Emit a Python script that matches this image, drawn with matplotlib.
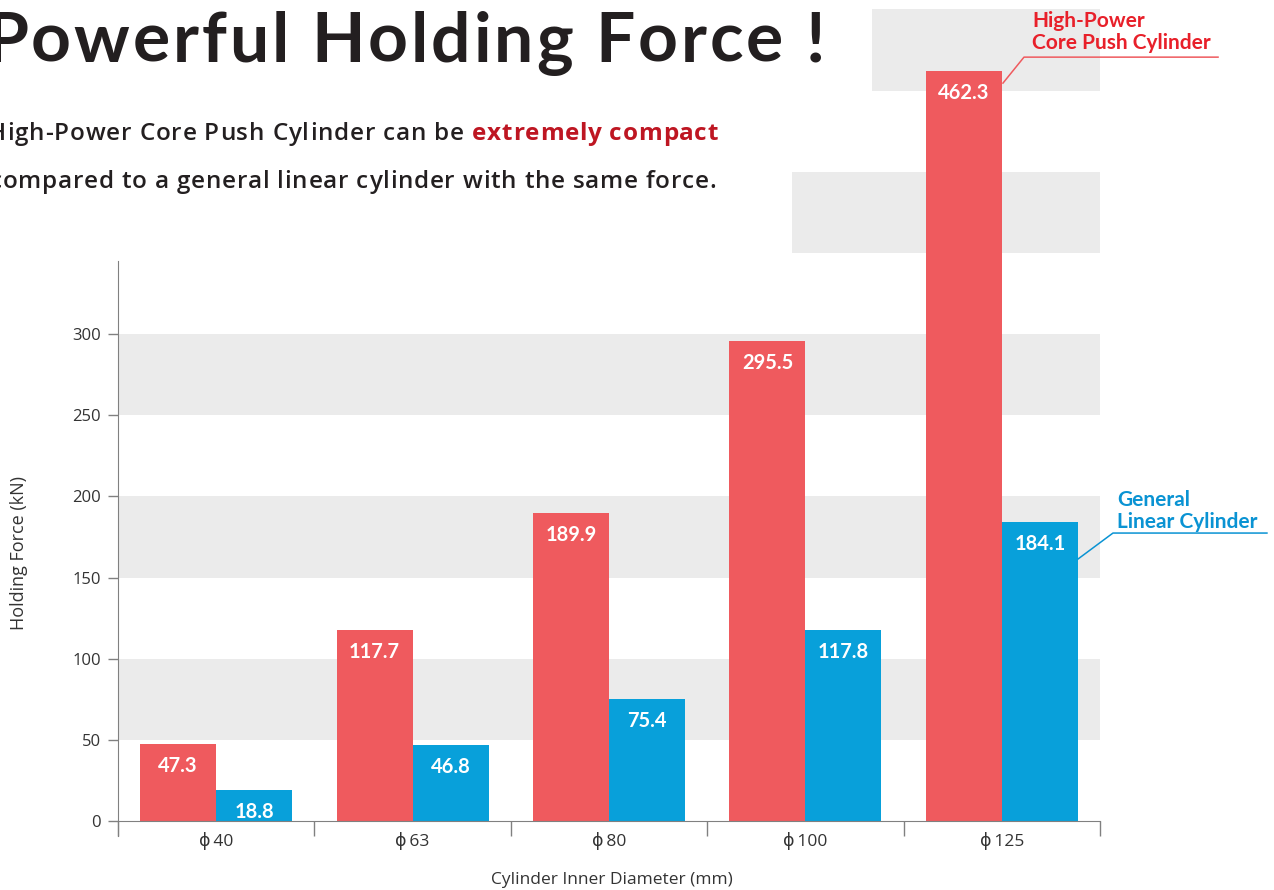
import matplotlib
matplotlib.use('Agg')
import matplotlib.pyplot as plt
from matplotlib.font_manager import FontProperties
import numpy as np

# data
categories = ['ϕ40', 'ϕ63', 'ϕ80', 'ϕ100', 'ϕ125']
core_push = [47.3, 117.7, 189.9, 295.5, 462.3]
linear = [18.8, 46.8, 75.4, 117.8, 184.1]
y_ticks = [0, 50, 100, 150, 200, 250, 300]

# shaded bands: (low, high, start as axes fraction)
bands = [(50, 100, 0.0), (150, 200, 0.0), (250, 300, 0.0),
         (350, 400, 0.686), (450, 500, 0.768)]

RED = '#EF5A5E'
BLUE = '#08A0DA'
RED_TXT = '#E8202A'
BLUE_TXT = '#0A93D3'
SUB_RED = '#BE1622'
DARK = '#231F20'
BAND = '#EBEBEB'
AXIS = '#808080'
TICK_TXT = '#333333'

plt.rcParams['font.family'] = ['Open Sans', 'DejaVu Sans']

W, H = 1274, 890
fig = plt.figure(figsize=(W / 100, H / 100), dpi=100)
renderer = fig.canvas.get_renderer()


def advances(s, fp):
    base = renderer.get_text_width_height_descent('ll', fp, ismath=False)[0]
    return [renderer.get_text_width_height_descent('l' + c + 'l', fp, ismath=False)[0] - base
            for c in s]


def tracked_text(s, right, baseline, width, fp, color):
    """Draw s letter by letter so that it spans `width` pixels ending at `right`."""
    adv = advances(s, fp)
    track = (width - sum(adv)) / (len(s) - 1)
    x = right - width
    for c, a in zip(s, adv):
        fig.text(x / W, 1 - baseline / H, c, ha='left', va='baseline',
                 fontproperties=fp, color=color)
        x += a + track


ax = fig.add_axes([118 / W, 54 / H, 982 / W, 836 / H])
ax.set_xlim(-0.5, 4.5)
ax.set_ylim(-9.24, 505.8)

for lo, hi, start in bands:
    ax.axhspan(lo, hi, xmin=start, xmax=1, color=BAND, lw=0, zorder=0)

x = np.arange(len(categories))
w = 0.387
ax.bar(x - w / 2, core_push, w, color=RED, zorder=2)
ax.bar(x + w / 2, linear, w, color=BLUE, zorder=2)

for xs, vals in ((x - w / 2, core_push), (x + w / 2, linear)):
    for xi, v in zip(xs, vals):
        ax.annotate(f'{v}', xy=(xi, v), xytext=(0, -22), textcoords='offset pixels',
                    ha='center', va='center', color='white', weight='bold',
                    fontsize=14.5, family=['Lato', 'DejaVu Sans'], zorder=3)

# axes styling
for s in ('top', 'right'):
    ax.spines[s].set_visible(False)
ax.spines['bottom'].set_position(('data', 0))
ax.spines['bottom'].set_color(AXIS)
ax.spines['left'].set_color(AXIS)
ax.spines['left'].set_bounds(-9.24, 345)
ax.spines['bottom'].set_zorder(4)

ax.set_yticks(y_ticks)
ax.tick_params(axis='y', length=7.2, width=1, color=AXIS, pad=5,
               labelsize=12, labelcolor=TICK_TXT)
ax.set_xticks(x, [c.replace('ϕ', 'ϕ\u2009') for c in categories])
ax.tick_params(axis='x', which='major', length=0, pad=8, labelsize=12.5,
               labelcolor=TICK_TXT)
ax.set_xticks(np.arange(-0.5, len(categories), 1), minor=True)
ax.tick_params(axis='x', which='minor', length=10.8, width=1, color=AXIS)

ax.set_ylabel('Holding Force (kN)', fontsize=13, color=TICK_TXT)
ax.yaxis.set_label_coords(-0.0917, 0.3385)
ax.set_xlabel('Cylinder Inner Diameter (mm)', fontsize=12.5, color=TICK_TXT)
ax.xaxis.set_label_coords(0.503, -0.0425)

# leader lines and series labels
lbl = dict(weight='bold', fontsize=15, family=['Lato', 'DejaVu Sans'],
           ha='left', va='baseline', textcoords='offset pixels', annotation_clip=False)
red_elbow = (4.113, 470.6)
ax.plot([4.006, red_elbow[0], 5.101], [454.6, red_elbow[1], red_elbow[1]],
        color=RED, lw=1.1, clip_on=False, zorder=3)
ax.annotate('High-Power', xy=red_elbow, xytext=(8, 30), color=RED_TXT, **lbl)
ax.annotate('Core Push Cylinder', xy=red_elbow, xytext=(8, 8), color=RED_TXT, **lbl)

blue_elbow = (4.566, 177.4)
ax.plot([4.388, blue_elbow[0], 5.350], [161.4, blue_elbow[1], blue_elbow[1]],
        color=BLUE_TXT, lw=1.1, clip_on=False, zorder=3)
ax.annotate('General', xy=blue_elbow, xytext=(4, 27), color=BLUE_TXT, **lbl)
ax.annotate('Linear Cylinder', xy=blue_elbow, xytext=(4, 5), color=BLUE_TXT, **lbl)

# title and subtitle (letter-spaced, running off the left edge like the original)
title_fp = FontProperties(family=['Lato', 'DejaVu Sans'], weight='bold', size=50)
tracked_text('Powerful Holding Force !', 825, 62, 840, title_fp, DARK)

sub_bold = FontProperties(family=['Open Sans', 'DejaVu Sans'], weight='bold', size=17.5)
sub_reg = FontProperties(family=['Open Sans', 'DejaVu Sans'], weight='semibold', size=17.5)
tracked_text('extremely compact', 718, 140, 246, sub_bold, SUB_RED)
tracked_text('High-Power Core Push Cylinder can be', 464, 140, 476, sub_reg, DARK)
tracked_text('compared to a general linear cylinder with the same force.', 716, 188, 726,
             sub_reg, DARK)

fig.savefig('out.png', dpi=100)
